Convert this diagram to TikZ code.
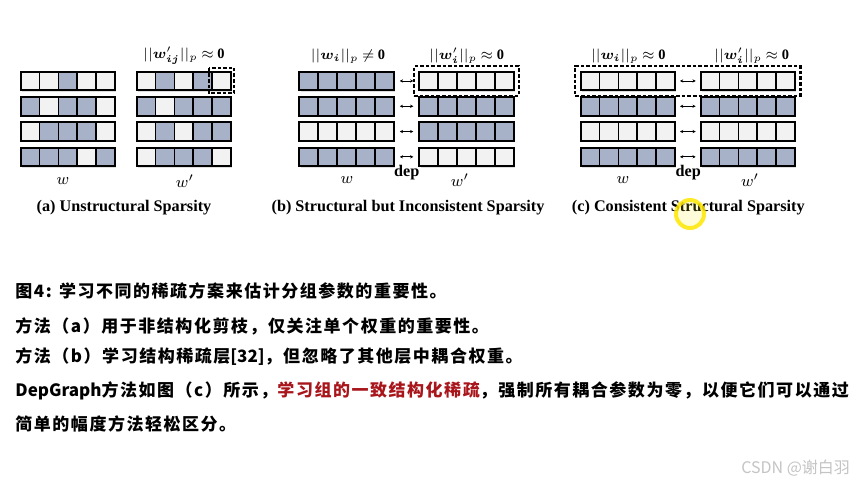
\documentclass[tikz,border=0pt]{standalone}
\usepackage{fontspec}
\usepackage{amsmath,bm}
\usepackage{xcolor}
\usepackage{tikz}
\usetikzlibrary{arrows.meta, positioning, fit, shadows}
\setmainfont{Liberation Serif}
\newfontfamily\cjk{Noto Sans CJK SC}[LetterSpace=9]
\newfontfamily\marksans{Noto Sans CJK SC}

\definecolor{wdark}{HTML}{A7B2C8}
\definecolor{wlight}{HTML}{F2F2F2}
\definecolor{keyred}{HTML}{A8151B}
\definecolor{markgray}{HTML}{C4C4C4}

% 一行权重：名字, 左边x, 上边y, 五个格子(1=深 0=浅)
\newcommand{\wrow}[4]{%
  \node[rowbox] (#1) at ({#2+47.15},{#3+9.25}) {};
  \foreach \c [count=\k from 0] in {#4} {
    \ifnum\c=1 \def\cellfill{wdark}\else\def\cellfill{wlight}\fi
    \draw[cell, fill=\cellfill] ({#2+\k*18.86},#3) rectangle ++(18.86,18.5);
  }
}

\begin{document}
\begin{tikzpicture}[x=0.5pt, y=-0.5pt,
    cell/.style={draw, line width=0.9pt},
    rowbox/.style={draw, line width=1pt, fill=white, minimum width=47.15pt, minimum height=9.25pt, inner sep=0pt,
        drop shadow={shadow xshift=0.7pt, shadow yshift=-0.7pt, opacity=0.25}},
    zerobox/.style={draw, line width=1.1pt, dash pattern=on 1.8pt off 1pt, inner sep=2.2pt},
    dep/.style={{Stealth[length=1.6pt, width=1.6pt]}-{Stealth[length=1.6pt, width=1.6pt]}, line width=0.4pt},
    norm/.style={font=\fontsize{7.2}{9}\selectfont, execute at begin node={\thickmuskip=4mu}},
    wlabel/.style={font=\fontsize{8.5}{10}\selectfont},
    caption/.style={font=\fontsize{8.1}{10}\selectfont\bfseries},
    textline/.style={anchor=west, inner sep=0pt, font=\fontsize{8.5}{10}\selectfont\cjk\bfseries},
]
\useasboundingbox[fill=white] (0,0) rectangle (862,484);

% (a) 非结构化
\wrow{aL1}{20.7}{71.7}{0,0,1,0,0}
\wrow{aL2}{20.7}{97}{1,0,1,1,0}
\wrow{aL3}{20.7}{122.3}{0,1,1,1,0}
\wrow{aL4}{20.7}{147.6}{1,1,1,0,1}
\wrow{aR1}{136.7}{71.7}{0,1,0,1,0}
\wrow{aR2}{136.7}{97}{1,0,1,1,1}
\wrow{aR3}{136.7}{122.3}{0,1,0,1,1}
\wrow{aR4}{136.7}{147.6}{0,1,1,1,0}
\draw[zerobox] (209,67.7) rectangle (234.3,93.3);
\node[norm] (aTR) at (184,56) {$||\bm{w}'_{\bm{ij}}||_p \approx \mathbf{0}$};
\node[wlabel] (aW) at (63,181) {$w$};
\node[wlabel] (aWp) at (185,181) {$w'$};
\node[caption] (capA) at (124,208) {(a) Unstructural Sparsity};

% (b) 结构化但不一致
\wrow{bL1}{299.3}{71.7}{1,1,1,1,1}
\wrow{bL2}{299.3}{97}{1,1,1,1,1}
\wrow{bL3}{299.3}{122.3}{0,0,0,0,0}
\wrow{bL4}{299.3}{147.6}{1,1,1,1,1}
\wrow{bR1}{419.3}{71.7}{0,0,0,0,0}
\wrow{bR2}{419.3}{97}{1,1,1,1,1}
\wrow{bR3}{419.3}{122.3}{1,1,1,1,1}
\wrow{bR4}{419.3}{147.6}{0,0,0,0,0}
\node[zerobox, fit=(bR1)] (bZero) {};
\foreach \i in {1,...,4}
  \draw[dep, shorten <=2.6pt, shorten >=2.5pt] (bL\i.east) -- (bR\i.west);
\node[norm] (bTL) at (348,56) {$||\bm{w}_{\bm{i}}||_p \neq \mathbf{0}$};
\node[norm] (bTR) at (466.7,56) {$||\bm{w}'_{\bm{i}}||_p \approx \mathbf{0}$};
\node[wlabel] (bW) at (347,180) {$w$};
\node[wlabel] (bWp) at (460,180) {$w'$};
\node[caption] (bDep) at (406.7,173) {dep};
\node[caption] (capB) at (408,208) {(b) Structural but Inconsistent Sparsity};

% (c) 一致结构化
\wrow{cL1}{580.7}{71.7}{0,0,0,0,0}
\wrow{cL2}{580.7}{97}{1,1,1,1,1}
\wrow{cL3}{580.7}{122.3}{0,0,0,0,0}
\wrow{cL4}{580.7}{147.6}{1,1,1,1,1}
\wrow{cR1}{700.7}{71.7}{0,0,0,0,0}
\wrow{cR2}{700.7}{97}{1,1,1,1,1}
\wrow{cR3}{700.7}{122.3}{0,0,0,0,0}
\wrow{cR4}{700.7}{147.6}{1,1,1,1,1}
\node[zerobox, fit=(cL1)(cR1)] (cZero) {};
\foreach \i in {1,...,4}
  \draw[dep, shorten <=2pt, shorten >=2pt] (cL\i.east) -- (cR\i.west);
\node[norm] (cTL) at (628.3,56) {$||\bm{w}_{\bm{i}}||_p \approx \mathbf{0}$};
\node[norm] (cTR) at (751.7,56) {$||\bm{w}'_{\bm{i}}||_p \approx \mathbf{0}$};
\node[wlabel] (cW) at (623,180) {$w$};
\node[wlabel] (cWp) at (750,180) {$w'$};
\node[caption] (cDep) at (688.3,173) {dep};
\node[caption] (capC) at (688.3,208) {(c) Consistent Structural Sparsity};
\node[circle, draw=yellow!90!orange, line width=2pt, fill=yellow, fill opacity=0.15, draw opacity=0.85, minimum size=14pt] (cursor) at (690,214) {};

% 说明文字
\node[textline] (t1) at (15,291) {图4: 学习不同的稀疏方案来估计分组参数的重要性。};
\node[textline] (t2) at (15,326) {方法（a）用于非结构化剪枝，仅关注单个权重的重要性。};
\node[textline] (t3) at (15,357) {方法（b）学习结构稀疏层{\marksans[32]}，但忽略了其他层中耦合权重。};
\node[textline] (t4) at (15,391) {{\marksans DepGraph}方法如图（c）所示，\textcolor{keyred}{学习组的一致结构化稀疏}，强制所有耦合参数为零，以便它们可以通过};
\node[textline] (t5) at (15,424) {简单的幅度方法轻松区分。};

% 水印
\node[anchor=east, text=markgray, font=\fontsize{8}{10}\selectfont\marksans] (mark) at (857,468) {CSDN @谢白羽};

\end{tikzpicture}
\end{document}
